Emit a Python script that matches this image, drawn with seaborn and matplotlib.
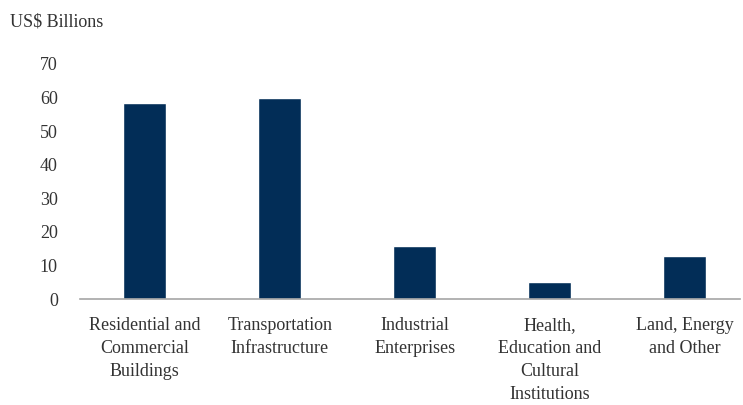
import matplotlib
matplotlib.use("Agg")
import matplotlib.pyplot as plt
import seaborn as sns
import pandas as pd

categories = ["Residential and\nCommercial\nBuildings", "Transportation\nInfrastructure",
              "Industrial\nEnterprises", "Health,\nEducation and\nCultural\nInstitutions",
              "Land, Energy\nand Other"]
values = [58.5, 60.0, 15.8, 5.0, 12.7]
yticks = [0, 10, 20, 30, 40, 50, 60, 70]
unit_label = "US$ Billions"

sns.set_theme(style="white")
plt.rcParams['font.family'] = ['Liberation Serif', 'DejaVu Serif']

df = pd.DataFrame({"cat": categories, "val": values})

fig = plt.figure(figsize=(7.43, 4.05), dpi=100)
ax = fig.add_axes([80/743, 1-299/405, 660/743, (299-64)/405])
sns.barplot(data=df, x="cat", y="val", color="#022d57", width=0.32, saturation=1, ax=ax)
ax.set_ylim(0, 70)
ax.set_xlim(-0.48, 4.41)
ax.set_yticks(yticks)
ax.set_yticklabels([str(t) for t in yticks], fontsize=13, color="#333333")
ax.set_xlabel("")
ax.set_ylabel("")
for s in ["top", "right", "left"]:
    ax.spines[s].set_visible(False)
ax.spines["bottom"].set_color("#a6a6a6")
ax.spines["bottom"].set_linewidth(1.2)
ax.tick_params(axis="both", length=0)
ax.tick_params(axis="y", pad=16)
ax.tick_params(axis="x", pad=13)
for lab in ax.get_xticklabels():
    lab.set_fontsize(13)
    lab.set_color("#333333")
    lab.set_linespacing(1.45)
    lab.set_verticalalignment("top")
fig.text(10/743, 1-22/405, unit_label, fontsize=13, color="#333333", va="center", ha="left")
fig.savefig("out.png", dpi=100)
